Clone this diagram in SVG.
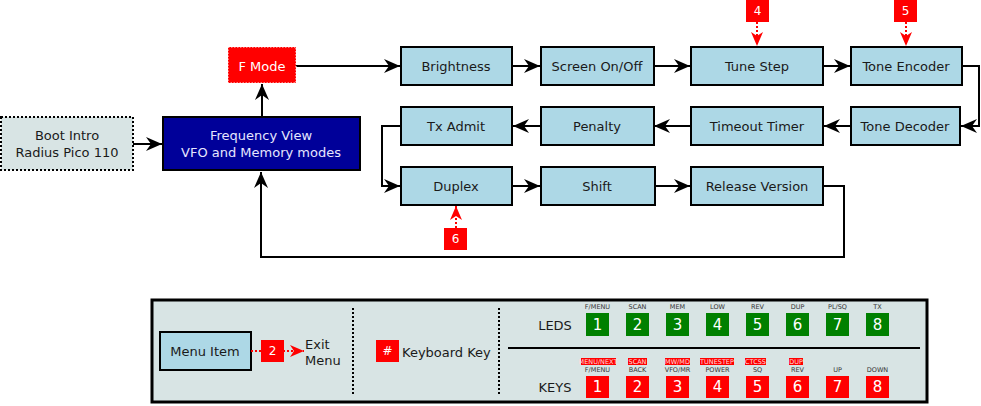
<svg xmlns="http://www.w3.org/2000/svg" width="981" height="406" viewBox="0 0 981 406">
  <style>
    text { font-family: "DejaVu Sans", "Liberation Sans", sans-serif; }
    .node { fill: #add8e6; stroke: #000; stroke-width: 2; }
    .lbl { font-size: 13px; fill: #1a1a1a; text-anchor: middle; dominant-baseline: central; }
    .wire { fill: none; stroke: #000; stroke-width: 2; }
    .hint { fill: none; stroke: #f00; stroke-width: 2; stroke-dasharray: 2 2; }
    .badge { fill: #f00; }
    .btxt { font-size: 12px; fill: #fff; text-anchor: middle; dominant-baseline: central; }
    .sq { font-size: 15px; fill: #fff; text-anchor: middle; dominant-baseline: central; }
    .tiny { font-size: 6.5px; fill: #333; text-anchor: middle; }
    .tinyw { font-size: 6.5px; fill: #fdd; text-anchor: middle; }
    .led { fill: #008000; }
    .key { fill: #f00; }
  </style>
  <defs>
    <marker id="arr" markerUnits="userSpaceOnUse" markerWidth="16" markerHeight="14" viewBox="0 0 16 14" refX="16" refY="7" orient="auto">
      <path d="M0,0 L16,7 L0,14 L5,7 z" fill="#000"/>
    </marker>
    <marker id="arrRed" markerUnits="userSpaceOnUse" markerWidth="14" markerHeight="12" viewBox="0 0 14 12" refX="14" refY="6" orient="auto">
      <path d="M0,0 L14,6 L0,12 L4,6 z" fill="#f00"/>
    </marker>
  </defs>

  <rect width="981" height="406" fill="#fff"/>

  <!-- connectors -->
  <g id="connectors">
    <path class="wire" d="M133,144 H162" marker-end="url(#arr)"/>
    <path class="wire" d="M262,117 V84" marker-end="url(#arr)"/>
    <path class="wire" d="M296,66 H400" marker-end="url(#arr)"/>
    <path class="wire" d="M512,66 H540" marker-end="url(#arr)"/>
    <path class="wire" d="M654,66 H690" marker-end="url(#arr)"/>
    <path class="wire" d="M823,66 H850" marker-end="url(#arr)"/>
    <path class="wire" d="M962,66 H979 V126 H961" marker-end="url(#arr)"/>
    <path class="wire" d="M851,126 H824" marker-end="url(#arr)"/>
    <path class="wire" d="M691,126 H654" marker-end="url(#arr)"/>
    <path class="wire" d="M541,126 H513" marker-end="url(#arr)"/>
    <path class="wire" d="M401,126 H382 V186 H400" marker-end="url(#arr)"/>
    <path class="wire" d="M512,186 H540" marker-end="url(#arr)"/>
    <path class="wire" d="M655,186 H690" marker-end="url(#arr)"/>
    <path class="wire" d="M823,186 H844 V257 H261 V172" marker-end="url(#arr)"/>
    <!-- key hints -->
    <path class="hint" d="M757,22 V46" marker-end="url(#arrRed)"/>
    <path class="hint" d="M906,22 V46" marker-end="url(#arrRed)"/>
    <path class="hint" d="M456,228 V206" marker-end="url(#arrRed)"/>
  </g>

  <!-- nodes -->
  <g id="boot">
    <rect x="1" y="117" width="132" height="53" fill="#d8e4e4" stroke="#000" stroke-width="2" stroke-dasharray="2 2"/>
    <text class="lbl" x="67" y="135">Boot Intro</text>
    <text class="lbl" x="67" y="152">Radius Pico 110</text>
  </g>
  <g id="freq">
    <rect x="163" y="117" width="197" height="53" fill="#000099" stroke="#000" stroke-width="2"/>
    <text class="lbl" x="261" y="135" style="fill:#e6e6ff">Frequency View</text>
    <text class="lbl" x="261" y="152" style="fill:#e6e6ff">VFO and Memory modes</text>
  </g>
  <g id="fmode">
    <rect x="228" y="47" width="68" height="36" fill="#f00" stroke="#fff" stroke-width="1" stroke-dasharray="1.5 1.5"/>
    <text class="lbl" x="262" y="66" style="fill:#fff">F Mode</text>
  </g>

  <g id="brightness"><rect class="node" x="401" y="47" width="111" height="38"/><text class="lbl" x="456" y="66">Brightness</text></g>
  <g id="screen"><rect class="node" x="541" y="47" width="113" height="38"/><text class="lbl" x="597" y="66">Screen On/Off</text></g>
  <g id="tunestep"><rect class="node" x="691" y="47" width="132" height="38"/><text class="lbl" x="757" y="66">Tune Step</text></g>
  <g id="toneenc"><rect class="node" x="851" y="47" width="111" height="38"/><text class="lbl" x="906" y="66">Tone Encoder</text></g>

  <g id="txadmit"><rect class="node" x="401" y="107" width="111" height="38"/><text class="lbl" x="456" y="126">Tx Admit</text></g>
  <g id="penalty"><rect class="node" x="541" y="107" width="113" height="38"/><text class="lbl" x="597" y="126">Penalty</text></g>
  <g id="timeout"><rect class="node" x="691" y="107" width="132" height="38"/><text class="lbl" x="757" y="126">Timeout Timer</text></g>
  <g id="tonedec"><rect class="node" x="851" y="107" width="109" height="38"/><text class="lbl" x="905" y="126">Tone Decoder</text></g>

  <g id="duplex"><rect class="node" x="401" y="167" width="111" height="38"/><text class="lbl" x="456" y="186">Duplex</text></g>
  <g id="shift"><rect class="node" x="541" y="167" width="114" height="38"/><text class="lbl" x="597" y="186">Shift</text></g>
  <g id="release"><rect class="node" x="691" y="167" width="132" height="38"/><text class="lbl" x="757" y="186">Release Version</text></g>

  <g id="key4"><rect class="badge" x="746" y="0" width="23" height="22"/><text class="btxt" x="757.5" y="11">4</text></g>
  <g id="key5"><rect class="badge" x="894" y="0" width="23" height="22"/><text class="btxt" x="905.5" y="11">5</text></g>
  <g id="key6"><rect class="badge" x="444" y="228" width="23" height="22"/><text class="btxt" x="455.5" y="239">6</text></g>

  <!-- legend -->
  <g id="legend">
    <rect x="152" y="300" width="775" height="102" fill="#d8e4e4" stroke="#000" stroke-width="3"/>
    <rect class="node" x="160" y="332" width="91" height="38"/>
    <text class="lbl" x="205" y="351">Menu Item</text>
    <path class="hint" d="M251,351 H304" marker-end="url(#arrRed)"/>
    <rect class="badge" x="261" y="340" width="23" height="22"/>
    <text class="btxt" x="272.5" y="351">2</text>
    <text class="lbl" x="305" y="344" style="text-anchor:start">Exit</text>
    <text class="lbl" x="305" y="360" style="text-anchor:start">Menu</text>
    <line x1="353" y1="308" x2="353" y2="394" stroke="#000" stroke-width="2" stroke-dasharray="2 2"/>
    <rect class="badge" x="376" y="340" width="23" height="22"/>
    <text class="btxt" x="387.5" y="351">#</text>
    <text class="lbl" x="402" y="352" style="text-anchor:start">Keyboard Key</text>
    <line x1="499" y1="308" x2="499" y2="394" stroke="#000" stroke-width="2" stroke-dasharray="2 2"/>

    <text class="lbl" x="555" y="325">LEDS</text>
    <line x1="508" y1="348" x2="920" y2="348" stroke="#000" stroke-width="2"/>
    <text class="lbl" x="555" y="387">KEYS</text>

    <!-- LED row -->
    <g>
      <text class="tiny" x="597.5" y="309">F/MENU</text>
      <text class="tiny" x="637.5" y="309">SCAN</text>
      <text class="tiny" x="677.5" y="309">MEM</text>
      <text class="tiny" x="717.5" y="309">LOW</text>
      <text class="tiny" x="757.5" y="309">REV</text>
      <text class="tiny" x="797.5" y="309">DUP</text>
      <text class="tiny" x="837.5" y="309">PL/SQ</text>
      <text class="tiny" x="877.5" y="309">TX</text>
      <rect class="led" x="586" y="313" width="23" height="23"/><text class="sq" x="597.5" y="325">1</text>
      <rect class="led" x="626" y="313" width="23" height="23"/><text class="sq" x="637.5" y="325">2</text>
      <rect class="led" x="666" y="313" width="23" height="23"/><text class="sq" x="677.5" y="325">3</text>
      <rect class="led" x="706" y="313" width="23" height="23"/><text class="sq" x="717.5" y="325">4</text>
      <rect class="led" x="746" y="313" width="23" height="23"/><text class="sq" x="757.5" y="325">5</text>
      <rect class="led" x="786" y="313" width="23" height="23"/><text class="sq" x="797.5" y="325">6</text>
      <rect class="led" x="826" y="313" width="23" height="23"/><text class="sq" x="837.5" y="325">7</text>
      <rect class="led" x="866" y="313" width="23" height="23"/><text class="sq" x="877.5" y="325">8</text>
    </g>

    <!-- key row: long-press functions highlighted in red -->
    <g>
      <rect class="key" x="581" y="358" width="35" height="7"/><text class="tinyw" x="598" y="364">MENU/NEXT</text>
      <rect class="key" x="628" y="358" width="19" height="7"/><text class="tinyw" x="637.5" y="364">SCAN</text>
      <rect class="key" x="665" y="358" width="25" height="7"/><text class="tinyw" x="677.5" y="364">MW/MD</text>
      <rect class="key" x="700" y="358" width="34" height="7"/><text class="tinyw" x="717" y="364">TUNESTEP</text>
      <rect class="key" x="745" y="358" width="21" height="7"/><text class="tinyw" x="755.5" y="364">CTCSS</text>
      <rect class="key" x="789" y="358" width="14" height="7"/><text class="tinyw" x="796" y="364">DUP</text>

      <text class="tiny" x="597.5" y="372">F/MENU</text>
      <text class="tiny" x="637.5" y="372">BACK</text>
      <text class="tiny" x="677.5" y="372">VFO/MR</text>
      <text class="tiny" x="717.5" y="372">POWER</text>
      <text class="tiny" x="757.5" y="372">SQ</text>
      <text class="tiny" x="797.5" y="372">REV</text>
      <text class="tiny" x="837.5" y="372">UP</text>
      <text class="tiny" x="877.5" y="372">DOWN</text>
      <rect class="key" x="586" y="376" width="23" height="22"/><text class="sq" x="597.5" y="387">1</text>
      <rect class="key" x="626" y="376" width="23" height="22"/><text class="sq" x="637.5" y="387">2</text>
      <rect class="key" x="666" y="376" width="23" height="22"/><text class="sq" x="677.5" y="387">3</text>
      <rect class="key" x="706" y="376" width="23" height="22"/><text class="sq" x="717.5" y="387">4</text>
      <rect class="key" x="746" y="376" width="23" height="22"/><text class="sq" x="757.5" y="387">5</text>
      <rect class="key" x="786" y="376" width="23" height="22"/><text class="sq" x="797.5" y="387">6</text>
      <rect class="key" x="826" y="376" width="23" height="22"/><text class="sq" x="837.5" y="387">7</text>
      <rect class="key" x="866" y="376" width="23" height="22"/><text class="sq" x="877.5" y="387">8</text>
    </g>
  </g>
</svg>
